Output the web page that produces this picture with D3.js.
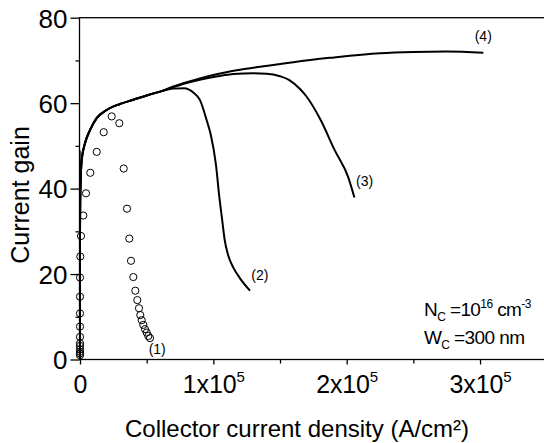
<!DOCTYPE html>
<html>
<head>
<meta charset="utf-8">
<script src="https://cdn.jsdelivr.net/npm/d3@7"></script>
<style>
  body { margin: 0; background: #fff; }
  text { font-family: "Liberation Sans", Arial, sans-serif; fill: #000; }
</style>
</head>
<body>
<div id="chart"></div>
<script>
// shared rise of curves (2)-(4): [current density, gain]
const envelope = [[0,0],[0,10],[0,20],[0,30],[150,37],[500,42],[1275,46.7],[3750,50.6],[7500,53.7],
  [12500,56.5],[20000,58.4],[30000,59.8],[40000,60.8],[50000,61.8],[60000,62.7]];
const curve2 = [[70000,63.4],[78000,63.5],[85000,62.5],[90000,60.7],[95000,56],[98000,52.7],[102000,45.5],
  [104500,38],[106500,33],[108500,28],[111000,24.5],[115000,21.5],[120000,19],[127500,16.1]];
const curve3 = [[70000,63.7],[80000,64.7],[100000,66.1],[115000,66.8],[130000,67.0],[140000,66.9],
  [150000,66.3],[157000,65.4],[165000,63.3],[170000,61.5],[180400,56.1],[191000,49],[201000,42.8],[205800,37.9]];
const curve4 = [[70000,63.9],[80000,64.9],[100000,66.6],[120000,67.8],[135000,68.5],[160000,69.6],
  [187500,70.6],[225000,71.7],[250000,72.0],[275000,72.1],[302500,71.8]];
const spike = [[0,30],[0,49],[300,40]];
// measured points (1)
const measured = [[0,1.0],[0,1.4],[0,1.8],[0,2.4],[0,3.2],[0,3.8],[0,5.3],[0,7.7],[0,10.8],[0,14.7],[0,19.2],
  [225,24.1],[750,28.9],[2475,33.7],[4500,38.9],[7725,43.7],[12525,48.6],[17775,53.2],[23775,56.9],
  [29475,55.3],[32775,44.7],[35250,35.3],[36975,28.3],[38250,23.1],[39975,19.3],[41475,16.1],
  [42975,13.9],[44250,12.0],[45225,10.4],[46275,9.2],[47475,8.1],[48750,7.1],[50025,6.3],
  [51225,5.5],[52500,5.0]];
const curveLabels = [["(1)",51500,1.2],["(2)",128500,18.5],["(3)",207000,40.5],["(4)",296000,74.5]];
const xTicks = [0,100000,200000,300000];
const xMinor = [50000,150000,250000];
const yTicks = [0,20,40,60,80];
const yMinor = [10,30,50,70];

const width = 544, height = 443;
const svg = d3.select("#chart").append("svg")
  .attr("width", width).attr("height", height);

const x = d3.scaleLinear().domain([0, 350000]).range([80, 546.7]);
const y = d3.scaleLinear().domain([0, 80]).range([359.5, 17.7]);

// frame
svg.append("rect")
  .attr("x", x(0) - 0.5).attr("y", y(80))
  .attr("width", x(350000) - x(0)).attr("height", y(0) - y(80))
  .attr("fill", "none").attr("stroke", "#000").attr("stroke-width", 1.3);

// x axis
const xAxis = svg.append("g").attr("transform", "translate(0," + y(0) + ")");
xAxis.call(d3.axisBottom(x).tickValues(xMinor).tickSize(4).tickFormat(""));
xAxis.select(".domain").remove();
const xMaj = svg.append("g").attr("transform", "translate(0," + y(0) + ")")
  .call(d3.axisBottom(x).tickValues(xTicks).tickSize(5).tickFormat(""));
xMaj.select(".domain").remove();
xMaj.selectAll(".tick").append("text")
  .attr("y", 33).attr("text-anchor", "middle")
  .attr("font-size", 25)
  .attr("textLength", d => d === 0 ? null : 62)
  .each(function(d) {
    const t = d3.select(this);
    if (d === 0) { t.text("0"); return; }
    t.append("tspan").text((d / 100000) + "x10");
    t.append("tspan").attr("font-size", 15).attr("dy", -11).text("5");
  });

// y axis
const yAxis = svg.append("g").attr("transform", "translate(" + (x(0) - 0.5) + ",0)");
yAxis.call(d3.axisLeft(y).tickValues(yMinor).tickSize(4).tickFormat(""));
yAxis.select(".domain").remove();
const yMaj = svg.append("g").attr("transform", "translate(" + (x(0) - 0.5) + ",0)")
  .call(d3.axisLeft(y).tickValues(yTicks).tickSize(9).tickPadding(3));
yMaj.select(".domain").remove();
svg.selectAll(".tick line").attr("stroke-width", 1.3);
yMaj.selectAll(".tick text")
  .attr("font-size", 26).attr("fill", "#000")
  .attr("font-family", "Liberation Sans, Arial, sans-serif")
  .attr("dy", "0.36em");

// axis titles
svg.append("text")
  .attr("x", 297).attr("y", 437)
  .attr("text-anchor", "middle").attr("font-size", 24)
  .text("Collector current density (A/cm²)");
svg.append("text")
  .attr("transform", "translate(29,195) rotate(-90)")
  .attr("text-anchor", "middle").attr("font-size", 25)
  .text("Current gain");

// curves
const line = d3.line().x(d => x(d[0])).y(d => y(d[1])).curve(d3.curveMonotoneX);
const lineY = d3.line().x(d => x(d[0])).y(d => y(d[1]));
[curve2, curve3, curve4].forEach(c => {
  svg.append("path")
    .attr("d", lineY(envelope.slice(0, 4)) + "L" + line(envelope.slice(3).concat(c)).slice(1))
    .attr("fill", "none").attr("stroke", "#000").attr("stroke-width", 2);
});
svg.append("path").attr("d", lineY(spike))
  .attr("fill", "none").attr("stroke", "#000").attr("stroke-width", 1.2);

// measured circles
svg.selectAll(".pt").data(measured).join("circle")
  .attr("class", "pt")
  .attr("cx", d => x(d[0])).attr("cy", d => y(d[1])).attr("r", 3.6)
  .attr("fill", "none").attr("stroke", "#000").attr("stroke-width", 1);

// curve labels
svg.selectAll(".lbl").data(curveLabels).join("text")
  .attr("class", "lbl")
  .attr("x", d => x(d[1])).attr("y", d => y(d[2]))
  .attr("font-size", 14)
  .text(d => d[0]);

// annotation
const n1 = svg.append("text").attr("x", 424).attr("y", 316).attr("font-size", 19)
  .attr("letter-spacing", -0.6);
n1.append("tspan").text("N");
n1.append("tspan").attr("font-size", 12).attr("dy", 5).text("C");
n1.append("tspan").attr("dy", -5).text(" =10");
n1.append("tspan").attr("font-size", 12).attr("dy", -8).text("16");
n1.append("tspan").attr("dy", 8).text(" cm");
n1.append("tspan").attr("font-size", 12).attr("dy", -8).text("-3");
const n2 = svg.append("text").attr("x", 424).attr("y", 344).attr("font-size", 19)
  .attr("letter-spacing", -0.6);
n2.append("tspan").text("W");
n2.append("tspan").attr("font-size", 12).attr("dy", 5).text("C");
n2.append("tspan").attr("dy", -5).text(" =300 nm");
</script>
</body>
</html>
